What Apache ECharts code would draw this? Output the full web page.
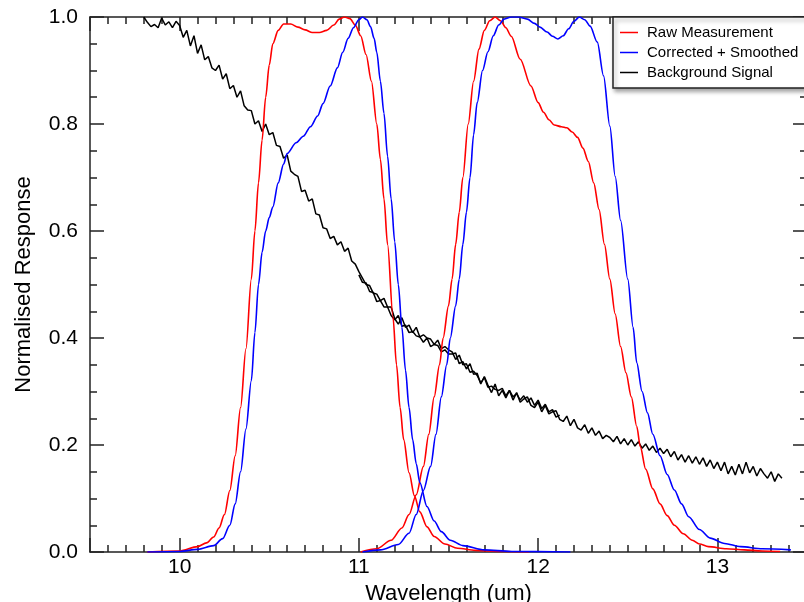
<!DOCTYPE html>
<html>
<head>
<meta charset="utf-8">
<script src="https://cdn.jsdelivr.net/npm/echarts@6/dist/echarts.min.js"></script>
<style>html,body{margin:0;padding:0;background:#fff;}#c{width:804px;height:602px;}</style>
</head>
<body>
<div id="c"></div>
<script>
// ---------- data ----------
const seriesNames = ['Raw Measurement', 'Corrected + Smoothed', 'Background Signal'];
const xTickLabels = [10, 11, 12, 13];
const yTickLabels = [0.0, 0.2, 0.4, 0.6, 0.8, 1.0];

const rawBand1 = [[9.82,0],[10.00,0.002],[10.10,0.01],[10.15,0.017],[10.19,0.028],[10.22,0.045],[10.25,0.07],[10.28,0.115],[10.31,0.18],[10.34,0.27],[10.37,0.38],[10.40,0.51],[10.42,0.60],[10.44,0.69],[10.46,0.77],[10.48,0.85],[10.50,0.91],[10.52,0.95],[10.55,0.975],[10.58,0.987],[10.62,0.987],[10.66,0.981],[10.70,0.976],[10.74,0.971],[10.78,0.971],[10.82,0.975],[10.86,0.985],[10.89,0.996],[10.92,1.0],[10.95,0.997],[10.98,0.985],[11.01,0.965],[11.04,0.93],[11.07,0.88],[11.10,0.80],[11.12,0.734],[11.14,0.66],[11.16,0.575],[11.19,0.44],[11.21,0.35],[11.23,0.27],[11.25,0.21],[11.28,0.148],[11.31,0.105],[11.34,0.075],[11.38,0.047],[11.42,0.029],[11.48,0.015],[11.55,0.007],[11.65,0.003],[11.80,0.001],[11.95,0]];
const rawBand2 = [[11.01,0],[11.10,0.006],[11.18,0.022],[11.24,0.045],[11.28,0.07],[11.32,0.107],[11.36,0.16],[11.39,0.22],[11.42,0.29],[11.45,0.35],[11.47,0.40],[11.50,0.46],[11.52,0.51],[11.54,0.575],[11.56,0.635],[11.58,0.70],[11.61,0.80],[11.64,0.88],[11.67,0.94],[11.70,0.975],[11.73,0.993],[11.76,1.0],[11.79,0.993],[11.82,0.98],[11.85,0.964],[11.90,0.921],[11.96,0.871],[12.00,0.84],[12.03,0.822],[12.06,0.808],[12.09,0.798],[12.13,0.795],[12.16,0.793],[12.19,0.785],[12.22,0.775],[12.25,0.755],[12.28,0.73],[12.31,0.69],[12.34,0.64],[12.37,0.575],[12.40,0.51],[12.43,0.445],[12.46,0.384],[12.49,0.335],[12.52,0.29],[12.55,0.235],[12.57,0.197],[12.60,0.155],[12.64,0.118],[12.68,0.09],[12.72,0.068],[12.76,0.05],[12.81,0.034],[12.86,0.022],[12.90,0.015],[12.95,0.01],[13.05,0.006],[13.15,0.004],[13.25,0.002],[13.35,0.001]];
const corrBand1 = [[9.82,0],[10.00,0.001],[10.10,0.005],[10.19,0.012],[10.24,0.025],[10.28,0.05],[10.31,0.09],[10.34,0.15],[10.37,0.23],[10.40,0.32],[10.42,0.41],[10.44,0.50],[10.46,0.56],[10.48,0.60],[10.50,0.625],[10.52,0.645],[10.55,0.69],[10.58,0.725],[10.60,0.745],[10.65,0.765],[10.69,0.777],[10.73,0.795],[10.77,0.815],[10.80,0.838],[10.84,0.871],[10.88,0.905],[10.91,0.934],[10.94,0.96],[10.97,0.98],[11.00,0.995],[11.02,1.0],[11.045,0.995],[11.065,0.982],[11.085,0.96],[11.10,0.934],[11.12,0.88],[11.14,0.82],[11.16,0.74],[11.18,0.66],[11.20,0.58],[11.22,0.50],[11.24,0.42],[11.26,0.34],[11.28,0.27],[11.30,0.21],[11.32,0.165],[11.34,0.13],[11.38,0.085],[11.42,0.058],[11.46,0.038],[11.51,0.022],[11.58,0.012],[11.70,0.004],[11.85,0.001],[12.18,0]];
const corrBand2 = [[11.02,0],[11.12,0.004],[11.22,0.014],[11.28,0.035],[11.32,0.07],[11.36,0.115],[11.40,0.16],[11.43,0.22],[11.46,0.29],[11.49,0.35],[11.51,0.40],[11.54,0.46],[11.56,0.51],[11.58,0.575],[11.60,0.635],[11.62,0.70],[11.64,0.78],[11.66,0.84],[11.69,0.90],[11.72,0.935],[11.75,0.965],[11.78,0.985],[11.81,0.996],[11.85,1.0],[11.89,1.0],[11.94,0.996],[11.98,0.988],[12.01,0.981],[12.05,0.972],[12.08,0.964],[12.11,0.959],[12.14,0.965],[12.17,0.978],[12.20,0.992],[12.23,1.0],[12.26,0.995],[12.29,0.983],[12.33,0.953],[12.365,0.89],[12.40,0.796],[12.43,0.702],[12.46,0.62],[12.50,0.51],[12.53,0.42],[12.55,0.354],[12.58,0.30],[12.61,0.26],[12.64,0.22],[12.68,0.18],[12.72,0.145],[12.76,0.116],[12.80,0.09],[12.84,0.066],[12.90,0.042],[12.96,0.026],[13.04,0.016],[13.13,0.01],[13.25,0.006],[13.41,0.004]];

const bgTraceA = [[9.80,1.000],[9.82,0.990],[9.84,0.982],[9.86,0.986],[9.88,0.980],[9.90,0.998],[9.92,0.985],[9.94,0.991],[9.96,0.980],[9.98,0.992],[10.00,0.984],[10.02,0.962],[10.04,0.975],[10.06,0.946],[10.08,0.965],[10.10,0.932],[10.12,0.948],[10.14,0.920],[10.16,0.926],[10.18,0.905],[10.20,0.900],[10.22,0.910],[10.24,0.884],[10.26,0.894],[10.28,0.866],[10.30,0.872],[10.32,0.850],[10.34,0.862],[10.36,0.834],[10.38,0.826],[10.40,0.825],[10.42,0.800],[10.44,0.806],[10.46,0.786],[10.48,0.800],[10.50,0.780],[10.52,0.784],[10.54,0.760],[10.56,0.758],[10.58,0.736],[10.60,0.742],[10.62,0.712],[10.64,0.706],[10.66,0.702],[10.68,0.674],[10.70,0.676],[10.72,0.656],[10.74,0.660],[10.76,0.632],[10.78,0.630],[10.80,0.606],[10.82,0.604],[10.84,0.586],[10.86,0.590],[10.88,0.574],[10.90,0.580],[10.92,0.562],[10.94,0.568],[10.96,0.544],[10.98,0.538],[11.00,0.524],[11.02,0.512],[11.04,0.500],[11.06,0.498],[11.08,0.484],[11.10,0.482],[11.12,0.470],[11.14,0.474],[11.16,0.458],[11.18,0.458],[11.20,0.436],[11.22,0.426],[11.24,0.438],[11.26,0.420],[11.28,0.424],[11.30,0.410],[11.32,0.420],[11.34,0.402],[11.36,0.406],[11.38,0.400],[11.40,0.398],[11.42,0.388],[11.44,0.396],[11.46,0.380],[11.48,0.384],[11.50,0.378],[11.52,0.374],[11.54,0.360],[11.56,0.368],[11.58,0.350],[11.60,0.352],[11.62,0.336],[11.64,0.338],[11.66,0.330],[11.68,0.316],[11.70,0.326],[11.72,0.308],[11.74,0.310],[11.76,0.304],[11.78,0.302],[11.80,0.306],[11.82,0.292],[11.84,0.302],[11.86,0.290],[11.88,0.296],[11.90,0.284],[11.92,0.292],[11.94,0.280],[11.96,0.288],[11.98,0.274],[12.00,0.284],[12.02,0.268],[12.04,0.276],[12.06,0.262],[12.08,0.266],[12.10,0.252],[12.12,0.256]];
const bgTraceB = [[11.00,0.518],[11.02,0.504],[11.04,0.503],[11.06,0.487],[11.08,0.485],[11.10,0.468],[11.12,0.470],[11.14,0.458],[11.16,0.458],[11.18,0.442],[11.20,0.434],[11.22,0.442],[11.24,0.422],[11.26,0.424],[11.28,0.410],[11.30,0.412],[11.32,0.404],[11.34,0.402],[11.36,0.392],[11.38,0.400],[11.40,0.384],[11.42,0.388],[11.44,0.386],[11.46,0.374],[11.48,0.378],[11.50,0.370],[11.52,0.370],[11.54,0.372],[11.56,0.352],[11.58,0.356],[11.60,0.342],[11.62,0.352],[11.64,0.332],[11.66,0.334],[11.68,0.314],[11.70,0.328],[11.72,0.312],[11.74,0.298],[11.76,0.314],[11.78,0.292],[11.80,0.302],[11.82,0.288],[11.84,0.302],[11.86,0.284],[11.88,0.298],[11.90,0.280],[11.92,0.286],[11.94,0.290],[11.96,0.274],[11.98,0.270],[12.00,0.280],[12.02,0.262],[12.04,0.274],[12.06,0.258],[12.08,0.262],[12.10,0.264],[12.12,0.248],[12.14,0.244],[12.16,0.254],[12.18,0.236],[12.20,0.248],[12.22,0.232],[12.24,0.228],[12.26,0.238],[12.28,0.222],[12.30,0.232],[12.32,0.218],[12.34,0.226],[12.36,0.212],[12.38,0.218],[12.40,0.214],[12.42,0.206],[12.44,0.216],[12.46,0.202],[12.48,0.212],[12.50,0.200],[12.52,0.210],[12.54,0.198],[12.56,0.206],[12.58,0.194],[12.60,0.202],[12.62,0.190],[12.64,0.198],[12.66,0.186],[12.68,0.194],[12.70,0.184],[12.72,0.192],[12.74,0.178],[12.76,0.188],[12.78,0.172],[12.80,0.182],[12.82,0.168],[12.84,0.180],[12.86,0.166],[12.88,0.178],[12.90,0.164],[12.92,0.176],[12.94,0.160],[12.96,0.172],[12.98,0.156],[13.00,0.168],[13.02,0.152],[13.04,0.168],[13.06,0.146],[13.08,0.160],[13.10,0.144],[13.12,0.164],[13.14,0.146],[13.16,0.168],[13.18,0.148],[13.20,0.160],[13.22,0.142],[13.24,0.156],[13.26,0.146],[13.28,0.138],[13.30,0.150],[13.32,0.132],[13.34,0.146],[13.36,0.138]];

// ---------- chart ----------
const FONT = '"Liberation Sans", Arial, Helvetica, sans-serif';
const axisColor = '#222';
const X_MIN = 9.5, X_MAX = 13.5;
const lineStyleAxis = { color: axisColor, width: 1.5 };

function xMajor(pos, labels) {
  return {
    type: 'value', position: pos, min: X_MIN, max: X_MAX,
    name: labels ? 'Wavelength (um)' : '', nameLocation: 'middle', nameGap: 27,
    nameTextStyle: { fontSize: 22, color: '#000', fontFamily: FONT },
    axisLine: { show: true, onZero: false, lineStyle: lineStyleAxis },
    axisTick: { show: true, inside: true, length: 14, lineStyle: lineStyleAxis },
    axisLabel: {
      show: labels, fontSize: 21, color: '#000', fontFamily: FONT, margin: 5,
      formatter: v => xTickLabels.some(t => Math.abs(t - v) < 1e-6) ? String(Math.round(v)) : ''
    },
    splitLine: { show: false }
  };
}
function xMinor(pos) {
  return {
    type: 'value', position: pos, min: X_MIN, max: X_MAX, interval: 0.1,
    axisLine: { show: false, onZero: false },
    axisTick: { show: true, inside: true, length: 7, lineStyle: lineStyleAxis },
    axisLabel: { show: false }, splitLine: { show: false }
  };
}
function yAxisDef(pos, labels) {
  return {
    type: 'value', position: pos, min: 0, max: 1, interval: 0.2,
    name: labels ? 'Normalised Response' : '', nameLocation: 'middle', nameGap: 55, nameRotate: 90,
    nameTextStyle: { fontSize: 22, color: '#000', fontFamily: FONT },
    axisLine: { show: true, onZero: false, lineStyle: lineStyleAxis },
    axisTick: { show: true, inside: true, length: 14, lineStyle: lineStyleAxis },
    minorTick: { show: true, splitNumber: 4, length: 7, lineStyle: lineStyleAxis },
    axisLabel: {
      show: labels, fontSize: 21, color: '#000', fontFamily: FONT, margin: 12,
      formatter: v => (yTickLabels.some(t => Math.abs(t - v) < 1e-6) ? v.toFixed(1) : '')
    },
    splitLine: { show: false }, minorSplitLine: { show: false }
  };
}

function lineSeries(name, data, color) {
  return {
    type: 'line', name: name, data: data, xAxisIndex: 0, yAxisIndex: 0,
    showSymbol: false, symbol: 'none', smooth: 0.3, smoothMonotone: 'x',
    lineStyle: { color: color, width: 1.6 }, itemStyle: { color: color },
    animation: false, silent: true, z: 3
  };
}
function noisySeries(name, data, color) {
  return {
    type: 'line', name: name, data: data, xAxisIndex: 0, yAxisIndex: 0,
    showSymbol: false, symbol: 'none',
    lineStyle: { color: color, width: 1.5 }, itemStyle: { color: color },
    animation: false, silent: true, z: 2
  };
}

const chart = echarts.init(document.getElementById('c'), null, { renderer: 'canvas' });
chart.setOption({
  backgroundColor: '#fff',
  animation: false,
  grid: { left: 90, right: -3, top: 17, bottom: 50, containLabel: false, outerBoundsMode: 'none' },
  xAxis: [xMajor('bottom', true), xMinor('bottom'), xMajor('top', false), xMinor('top')],
  yAxis: [yAxisDef('left', true), yAxisDef('right', false)],
  legend: {
    data: seriesNames, orient: 'vertical', left: 613, top: 17,
    padding: [8, 40, 8, 7], itemGap: 5, itemWidth: 18, itemHeight: 1.5, icon: 'rect',
    textStyle: { fontSize: 15, color: '#000', fontFamily: FONT, padding: [0, 0, 0, 4] },
    backgroundColor: '#fff', borderColor: axisColor, borderWidth: 1.5, borderRadius: 0,
    shadowColor: 'rgba(0,0,0,0.35)', shadowBlur: 4, shadowOffsetX: 2, shadowOffsetY: 3,
    selectedMode: false
  },
  series: [
    lineSeries(seriesNames[0], rawBand1, '#ff0000'),
    lineSeries(seriesNames[0], rawBand2, '#ff0000'),
    lineSeries(seriesNames[1], corrBand1, '#0000ff'),
    lineSeries(seriesNames[1], corrBand2, '#0000ff'),
    noisySeries(seriesNames[2], bgTraceA, '#000000'),
    noisySeries(seriesNames[2], bgTraceB, '#000000')
  ]
});
</script>
</body>
</html>
